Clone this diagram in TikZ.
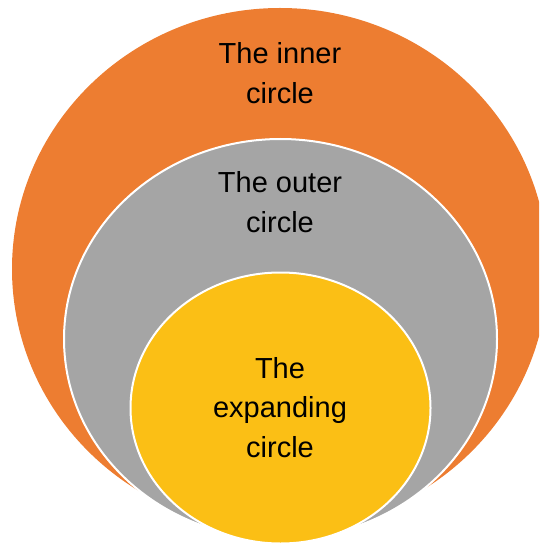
\documentclass[tikz,border=0pt]{standalone}
\usepackage{fontspec}
\setmainfont{Liberation Sans}
\definecolor{corange}{HTML}{ED7D31}
\definecolor{cgrey}{HTML}{A5A5A5}
\definecolor{cgold}{HTML}{FBBF15}
\tikzset{
  ringline/.style={draw=white, line width=2pt},
  lbl/.style={align=center, anchor=base, text=black, inner sep=0pt, font=\fontsize{29}{39.5}\selectfont}
}
\begin{document}
\begin{tikzpicture}[x=1pt,y=-1pt]
\useasboundingbox (0,0) rectangle (539,545);
\clip (0,0) rectangle (539,545);
\fill[corange] (280,269) ellipse [x radius=268, y radius=261];
\path[fill=cgrey, ringline] (280.5,339) ellipse [x radius=216.5, y radius=200];
\path[fill=cgold, ringline] (280.5,408) ellipse [x radius=150, y radius=135.5];
\node[lbl] (tinner) at (280,103.5) {The inner\\circle};
\node[lbl] (touter) at (280,232) {The outer\\circle};
\node[lbl] (texp) at (280,457) {The\\expanding\\circle};
\end{tikzpicture}
\end{document}
